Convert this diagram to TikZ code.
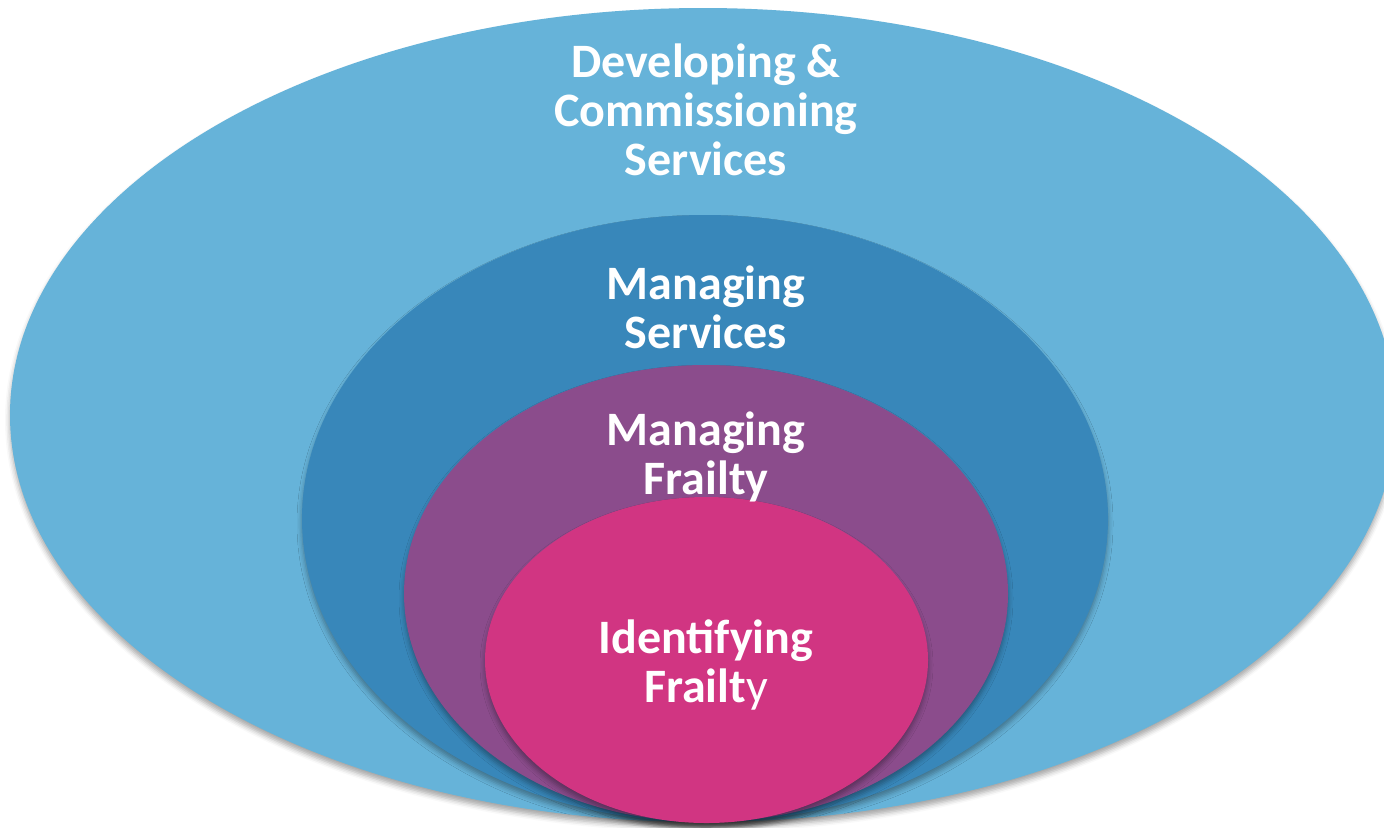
\documentclass[tikz,border=0pt]{standalone}
\usepackage{fontspec}
\setmainfont{Carlito}
\usetikzlibrary{positioning,shapes.geometric,shadows.blur}

\definecolor{ringSky}{RGB}{102,179,217}
\definecolor{ringSea}{RGB}{56,135,186}
\definecolor{ringPlum}{RGB}{139,76,140}
\definecolor{ringRose}{RGB}{209,53,130}

\begin{document}
\begin{tikzpicture}[x=0.5pt, y=-0.5pt]

    %
    % Styles for rings and ring labels
    %
    \tikzstyle{ring} = [ellipse, inner sep=0pt, draw=none,
                        blur shadow={shadow xshift=0pt, shadow yshift=-2.5pt,
                                     shadow blur radius=2.5pt, shadow opacity=35}]
    \tikzstyle{ringName} = [align=center, inner sep=0pt, anchor=base, text=white,
                            font={\fontsize{24}{24.5}\selectfont\bfseries}]

    \useasboundingbox (0,0) rectangle (1384,827);

    %
    % Position rings, from the outside in
    %
    \node[ring, fill=ringSky, minimum width=693pt, minimum height=407pt] (outerRing) at (703,415) {};
    \node[ring, fill=ringSea, minimum width=403pt, minimum height=303.5pt] (servRing) at (705,518.5) {};
    \node[ring, fill=ringPlum, minimum width=302pt, minimum height=228.5pt] (frailRing) at (706,593.5) {};
    \node[ring, fill=ringRose, minimum width=221.5pt, minimum height=163pt] (idRing) at (706.5,660) {};

    %
    % Ring labels (base is the last line)
    %
    \node[ringName] (outerName) at (706,175) {Developing \&\\Commissioning\\Services};
    \node[ringName] (servName) at (706,348) {Managing\\Services};
    \node[ringName] (frailName) at (706,494) {Managing\\Frailty};
    \node[ringName] (idName) at (706,702) {Identifying\\Frailt{\mdseries y}};
\end{tikzpicture}
\end{document}
